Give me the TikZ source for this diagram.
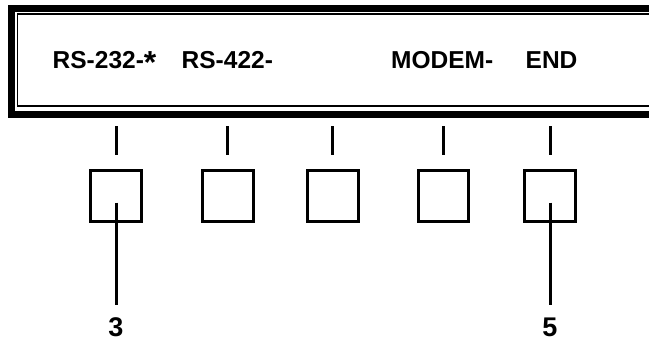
\documentclass[tikz,border=0pt]{standalone}
\usepackage{fontspec}
\setmainfont{Liberation Sans}
\begin{document}
\begin{tikzpicture}[x=1pt,y=-1pt,
  lbl/.style={font=\fontsize{24.5}{24.5}\selectfont\bfseries, inner sep=0, anchor=base west},
  key/.style={draw, line width=3pt, minimum size=50.5pt, inner sep=0},
  tickline/.style={line width=3pt},
  num/.style={font=\fontsize{27}{27}\selectfont\bfseries, inner sep=0}]
\useasboundingbox (0,0) rectangle (649,343);
\clip (0,0) rectangle (649,343);
% display frame
\draw[line width=7pt] (11.5,8.5) rectangle (680,114.8);
\draw[line width=1.5pt] (17.5,14.2) rectangle (680,105.8);
% display texts
\node[lbl] (t1) at (52.5,68.5) {RS-232-\raisebox{-4.5pt}{\scalebox{1.3}{*}}};
\node[lbl] (t2) at (181.5,68.5) {RS-422-};
\node[lbl] (t4) at (391,68.5) {MODEM-};
\node[lbl] (t5) at (525.5,68.5) {END};
% keys
\node[key] (k1) at (116,196) {};
\node[key] (k2) at (227.8,196) {};
\node[key] (k3) at (332.8,196) {};
\node[key] (k4) at (443.5,196) {};
\node[key] (k5) at (550,196) {};
% ticks above keys
\foreach \k in {k1,k2,k3,k4,k5}
  \draw[tickline] ([yshift=14.5pt]\k.north) -- ([yshift=43pt]\k.north);
% leaders and numbers
\coordinate (l1) at (116,202.5);
\coordinate (l5) at (550,202.5);
\node[num] (n1) at (116,327) {3};
\node[num] (n5) at (550,327) {5};
\draw[tickline] (l1) -- ([yshift=12pt]n1.north);
\draw[tickline] (l5) -- ([yshift=12pt]n5.north);
\end{tikzpicture}
\end{document}
